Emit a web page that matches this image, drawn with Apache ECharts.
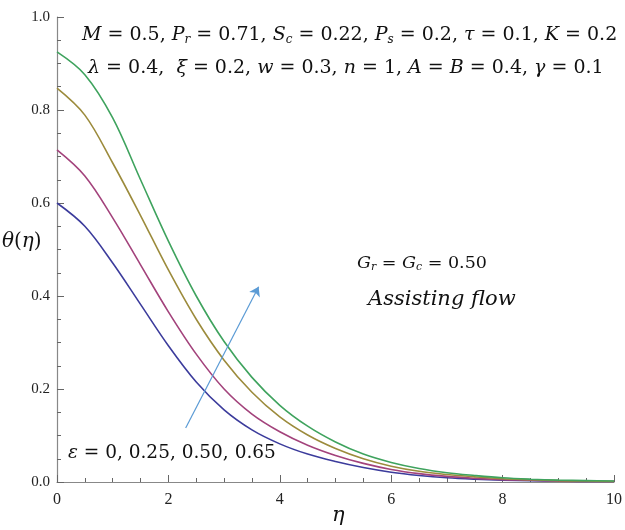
<!DOCTYPE html>
<html>
<head>
<meta charset="utf-8">
<script src="https://cdn.jsdelivr.net/npm/echarts@6/dist/echarts.min.js"></script>
<style>
  html, body { margin: 0; padding: 0; background: #fff; }
  #main { width: 625px; height: 530px; }
</style>
</head>
<body>
<div id="main"></div>
<script>
// eta values (x axis)
var eta = [0, 0.5, 1, 1.5, 2, 2.5, 3, 3.5, 4, 4.5, 5, 5.5, 6, 6.5, 7, 7.5, 8, 8.5, 9, 9.5, 10]

// theta(eta) for eps = 0, 0.25, 0.50, 0.65
var thetaE0 = [0.6, 0.55, 0.471, 0.382, 0.293, 0.215, 0.155, 0.112, 0.082, 0.06, 0.044, 0.031, 0.021, 0.014, 0.009, 0.006, 0.004, 0.003, 0.002, 0.001, 0.001]
var thetaE25 = [0.714, 0.658, 0.568, 0.467, 0.366, 0.275, 0.2, 0.146, 0.108, 0.079, 0.057, 0.04, 0.027, 0.018, 0.012, 0.008, 0.005, 0.004, 0.002, 0.001, 0.001]
var thetaE50 = [0.847, 0.789, 0.686, 0.573, 0.456, 0.35, 0.262, 0.193, 0.14, 0.101, 0.072, 0.05, 0.034, 0.023, 0.016, 0.011, 0.007, 0.005, 0.003, 0.002, 0.001]
var thetaE65 = [0.925, 0.876, 0.783, 0.65, 0.518, 0.4, 0.302, 0.225, 0.165, 0.12, 0.086, 0.06, 0.042, 0.029, 0.02, 0.014, 0.009, 0.006, 0.004, 0.003, 0.002]

var colors = ['#3c3c9c', '#a3437c', '#9c8b3c', '#3fa35e']

// arrow showing increasing eps
var arrowFrom = [2.31, 0.116]
var arrowTo = [3.62, 0.42]

function pairs(ys) {
    return eta.map(function (x, i) { return [x, ys[i]] })
}

var myChart = echarts.init(document.getElementById('main'))

var serif = '"Liberation Serif", "DejaVu Serif", serif'
var math = '"DejaVu Serif", serif'

// rich styles for italic symbols and subscripts at a given size
function richFor(size) {
    return {
        i: { fontFamily: math, fontStyle: 'italic', fontSize: size, color: '#111' },
        s: { fontFamily: math, fontStyle: 'italic', fontSize: Math.round(size * 0.65), color: '#111', padding: [Math.round(size * 0.45), 0, 0, 0] }
    }
}

function mathText(left, top, size, text) {
    return {
        type: 'text', left: left, top: top,
        style: { text: text, rich: richFor(size), font: size + 'px ' + math, fill: '#111' }
    }
}

function lineSeries(name, ys, color) {
    return {
        name: name,
        type: 'line',
        data: pairs(ys),
        smooth: 0.35,
        showSymbol: false,
        lineStyle: { color: color, width: 1.6 }
    }
}

var series = [
    lineSeries('e0', thetaE0, colors[0]),
    lineSeries('e25', thetaE25, colors[1]),
    lineSeries('e50', thetaE50, colors[2]),
    lineSeries('e65', thetaE65, colors[3])
]
series[0].markLine = {
    silent: true,
    symbol: ['none', 'arrow'],
    symbolSize: 9,
    label: { show: false },
    lineStyle: { color: '#5b9bd5', width: 1.2, type: 'solid' },
    data: [[{ coord: arrowFrom }, { coord: arrowTo }]]
}

var option = {
    animation: false,
    backgroundColor: '#fff',
    grid: { left: 57, right: 5, top: 17, bottom: 48 },
    xAxis: {
        type: 'value',
        min: 0,
        max: 10,
        interval: 2,
        axisLine: { lineStyle: { color: '#888', width: 1.2 } },
        axisTick: { inside: true, length: 7, lineStyle: { color: '#666' } },
        minorTick: { show: true, splitNumber: 4, length: 4, lineStyle: { color: '#666' } },
        splitLine: { show: false },
        axisLabel: { color: '#222', fontFamily: serif, fontSize: 16, margin: 10 }
    },
    yAxis: {
        type: 'value',
        min: 0,
        max: 1,
        interval: 0.2,
        axisLine: { show: true, lineStyle: { color: '#888', width: 1.2 } },
        axisTick: { show: true, inside: true, length: 7, lineStyle: { color: '#666' } },
        minorTick: { show: true, splitNumber: 4, length: 4, lineStyle: { color: '#666' } },
        splitLine: { show: false },
        axisLabel: {
            color: '#222', fontFamily: serif, fontSize: 15, margin: 7,
            formatter: function (v) { return v.toFixed(1) }
        }
    },
    graphic: [
        mathText(82, 26, 19, '{i|M} = 0.5, {i|P}{s|r} = 0.71, {i|S}{s|c} = 0.22, {i|P}{s|s} = 0.2, {i|τ} = 0.1, {i|K} = 0.2'),
        mathText(88, 59, 19, '{i|λ} = 0.4,  {i|ξ} = 0.2, {i|w} = 0.3, {i|n} = 1, {i|A} = {i|B} = 0.4, {i|γ} = 0.1'),
        mathText(357, 254, 17.5, '{i|G}{s|r} = {i|G}{s|c} = 0.50'),
        {
            type: 'text', left: 368, top: 289,
            style: { text: 'Assisting flow', font: 'italic 21px ' + math, fill: '#111' }
        },
        mathText(68, 444, 18.5, '{i|ε} = 0, 0.25, 0.50, 0.65'),
        mathText(2, 232, 20, '{i|θ}({i|η})'),
        {
            type: 'text', left: 332, top: 505,
            style: { text: 'η', font: 'italic 21px ' + math, fill: '#111' }
        }
    ],
    series: series
}

myChart.setOption(option)
</script>
</body>
</html>
